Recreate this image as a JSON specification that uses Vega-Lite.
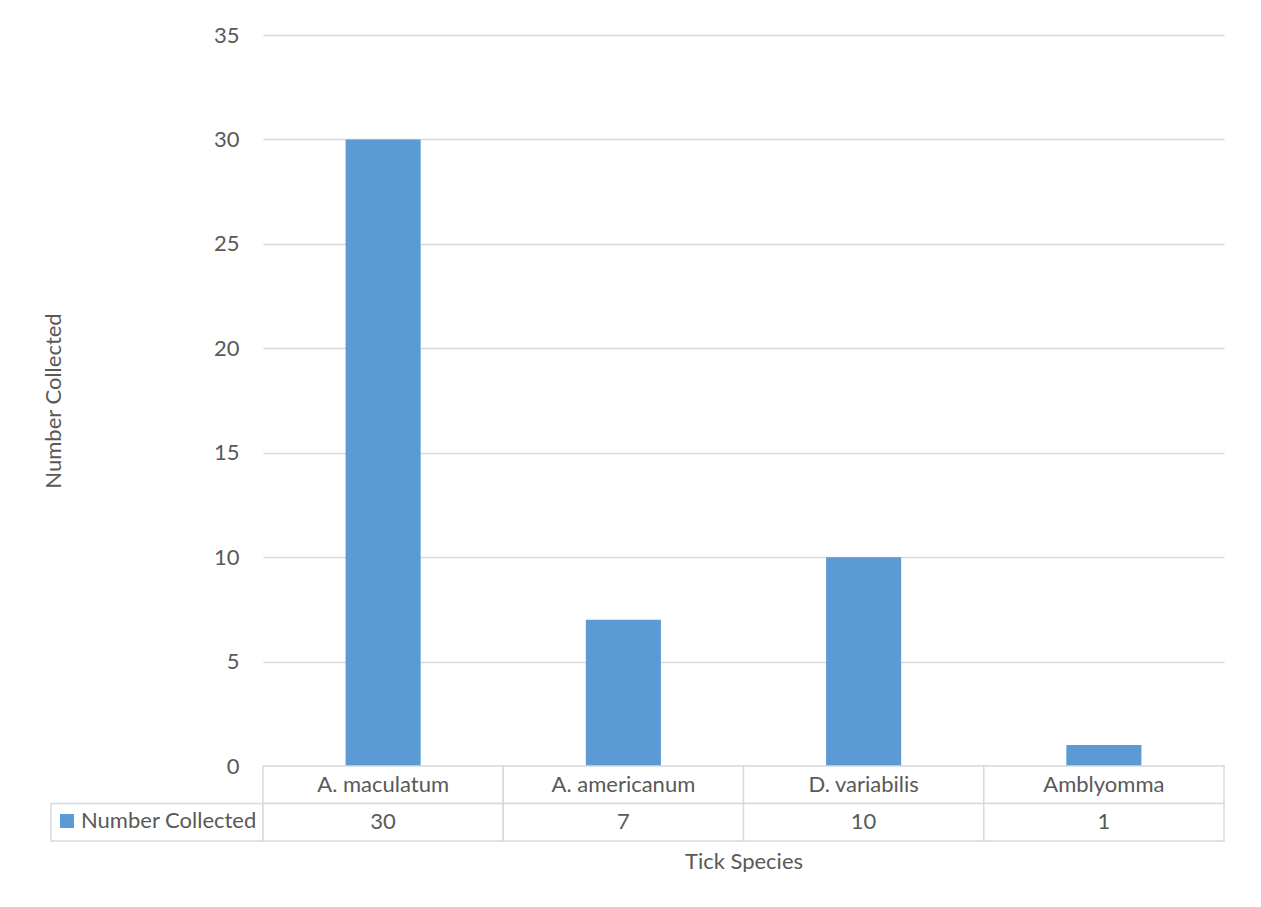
{
  "$schema": "https://vega.github.io/schema/vega-lite/v6.json",
  "background": "white",
  "padding": {"left": 42, "top": 24, "right": 0, "bottom": 0},
  "config": {
    "view": {"stroke": null},
    "font": "Lato",
    "text": {"font": "Lato", "fontSize": 22, "color": "#595959"}
  },
  "datasets": {
    "ticks": [
      {"species": "A. maculatum", "count": 30},
      {"species": "A. americanum", "count": 7},
      {"species": "D. variabilis", "count": 10},
      {"species": "Amblyomma", "count": 1}
    ]
  },
  "columns": 2,
  "spacing": 0,
  "bounds": "flush",
  "concat": [
    {
      "width": 212,
      "height": 731,
      "data": {"values": [{"blank": ""}]},
      "mark": {"type": "text", "text": ""},
      "encoding": {}
    },
    {
      "width": 961,
      "height": 731,
      "data": {"name": "ticks"},
      "mark": {"type": "bar"},
      "encoding": {
        "x": {
          "field": "species", "type": "nominal", "sort": null,
          "scale": {"paddingInner": 0.6875, "paddingOuter": 0.34375},
          "axis": null
        },
        "y": {
          "field": "count", "type": "quantitative",
          "scale": {"domain": [0, 35], "nice": false},
          "axis": {
            "values": [0, 5, 10, 15, 20, 25, 30, 35],
            "grid": true, "gridColor": "#d9d9d9", "gridWidth": 1.5,
            "domain": false, "ticks": false,
            "labelPadding": 24, "labelFontSize": 22, "labelColor": "#595959", "labelFont": "Lato",
            "title": "Number Collected", "titleFont": "Lato", "titleFontSize": 22,
            "titleFontWeight": "normal", "titleColor": "#595959", "titlePadding": 148
          }
        },
        "color": {
          "datum": "Number Collected",
          "scale": {"range": ["#5b9bd5"]},
          "legend": {
            "orient": "none", "legendX": 5, "legendY": 775, "title": null,
            "symbolType": "square", "symbolSize": 196, "symbolStrokeWidth": 0,
            "labelFont": "Lato", "labelFontSize": 22, "labelColor": "#595959",
            "labelOffset": 3, "labelLimit": 0, "padding": 0
          }
        }
      }
    },
    {
      "width": 212,
      "height": 75,
      "data": {"values": [{"cell": "Number Collected"}]},
      "mark": {"type": "rect", "fill": "white", "stroke": "#d9d9d9", "strokeWidth": 1.5},
      "encoding": {
        "y": {
          "datum": "count", "type": "nominal",
          "scale": {"type": "band", "domain": ["species", "count"], "paddingInner": 0, "paddingOuter": 0},
          "axis": null
        }
      }
    },
    {
      "width": 961,
      "height": 75,
      "data": {"name": "ticks"},
      "encoding": {
        "x": {
          "field": "species", "type": "nominal", "sort": null,
          "scale": {"paddingInner": 0, "paddingOuter": 0},
          "axis": {
            "labels": false, "ticks": false, "domain": false, "grid": false,
            "title": "Tick Species", "titleFont": "Lato", "titleFontSize": 22,
            "titleFontWeight": "normal", "titleColor": "#595959", "titlePadding": 10
          }
        }
      },
      "layer": [
        {
          "mark": {"type": "rect", "fill": "white", "stroke": "#d9d9d9", "strokeWidth": 1.5},
          "encoding": {
            "y": {
              "datum": "species", "type": "nominal",
              "scale": {"type": "band", "domain": ["species", "count"], "paddingInner": 0, "paddingOuter": 0},
              "axis": null
            }
          }
        },
        {
          "mark": {"type": "rect", "fill": "white", "stroke": "#d9d9d9", "strokeWidth": 1.5},
          "encoding": {"y": {"datum": "count", "type": "nominal"}}
        },
        {
          "mark": {"type": "text"},
          "encoding": {
            "y": {"datum": "species", "type": "nominal"},
            "text": {"field": "species", "type": "nominal"}
          }
        },
        {
          "mark": {"type": "text"},
          "encoding": {
            "y": {"datum": "count", "type": "nominal"},
            "text": {"field": "count", "type": "quantitative"}
          }
        }
      ]
    }
  ]
}
